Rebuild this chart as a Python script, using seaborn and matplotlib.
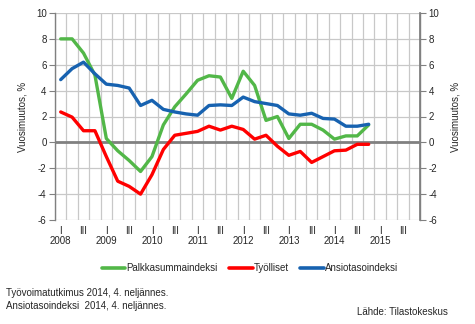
import matplotlib
matplotlib.use("Agg")
import matplotlib.pyplot as plt
import seaborn as sns
import pandas as pd
import numpy as np

quarters = [f"{y}Q{q}" for y in range(2008, 2015) for q in range(1, 5)]
palkkasumma = [8.0, 8.0, 6.9, 5.2, 0.3, -0.65, -1.4, -2.25, -1.1, 1.35, 2.75, 3.75,
               4.8, 5.15, 5.05, 3.4, 5.5, 4.4, 1.7, 2.0, 0.3, 1.4, 1.4, 0.95,
               0.25, 0.5, 0.5, 1.35]
tyolliset = [2.35, 1.95, 0.9, 0.9, -1.1, -3.0, -3.4, -4.0, -2.5, -0.55, 0.55, 0.7,
             0.85, 1.25, 0.95, 1.25, 1.0, 0.25, 0.55, -0.3, -1.0, -0.7, -1.55, -1.1,
             -0.65, -0.6, -0.15, -0.15]
ansiotaso = [4.85, 5.7, 6.2, 5.3, 4.5, 4.4, 4.2, 2.85, 3.25, 2.55, 2.35, 2.2,
             2.1, 2.85, 2.9, 2.85, 3.5, 3.15, 3.0, 2.85, 2.2, 2.1, 2.25, 1.85,
             1.8, 1.25, 1.25, 1.4]
series_names = ["Palkkasummaindeksi", "Työlliset", "Ansiotasoindeksi"]
colors = ["#52b748", "#ff0000", "#1762b0"]
years = list(range(2008, 2016))
y_ticks = [-6, -4, -2, 0, 2, 4, 6, 8, 10]

sns.set_theme(style="white")
plt.rcParams["font.family"] = ["Liberation Sans", "DejaVu Sans"]
plt.rcParams["font.size"] = 7

df = pd.DataFrame({
    "idx": list(range(len(quarters))) * 3,
    "value": palkkasumma + tyolliset + ansiotaso,
    "series": sum([[n] * len(quarters) for n in series_names], []),
})

fig = plt.figure(figsize=(4.75, 3.24), dpi=100)
ax = fig.add_axes([55 / 475, 1 - 220 / 324, (420 - 55) / 475, (220 - 13) / 324])

n_cat = len(years) * 4
ax.set_xlim(-0.5, n_cat - 0.5)
ax.set_ylim(-6, 10)

# grid
for b in np.arange(-0.5, n_cat, 1.0):
    ax.axvline(b, color="#c8c8c8", lw=0.9, zorder=0)
for t in y_ticks:
    ax.axhline(t, color="#c8c8c8", lw=0.9, zorder=0)
ax.axhline(0, color="#808080", lw=2.0, zorder=1)

sns.lineplot(data=df, x="idx", y="value", hue="series", palette=colors,
             hue_order=series_names, lw=2.4, ax=ax, legend=False, zorder=3)

# x tick labels
pos, labs = [], []
for i, y in enumerate(years):
    pos += [i * 4, i * 4 + 2]
    labs += [f"I\n{y}", "III"]
ax.set_xticks(pos)
ax.set_xticklabels(labs, fontsize=7, linespacing=1.05)
ax.tick_params(axis="x", length=0, pad=4)

ax.set_yticks(y_ticks)
ax.set_yticklabels([str(t) for t in y_ticks], fontsize=7)
ax.tick_params(axis="y", length=4, width=0.8, color="#808080", pad=2, left=True)
ax.set_xlabel("")
ax.set_ylabel("Vuosimuutos, %", fontsize=7, labelpad=6)

for s in ["top", "bottom"]:
    ax.spines[s].set_visible(False)
for s in ["left", "right"]:
    ax.spines[s].set_color("#808080")
    ax.spines[s].set_linewidth(1.0)

ax2 = ax.twinx()
ax2.set_ylim(-6, 10)
ax2.set_yticks(y_ticks)
ax2.set_yticklabels([str(t) for t in y_ticks], fontsize=7)
ax2.tick_params(axis="y", length=4, width=0.8, color="#808080", pad=2, right=True)
ax2.set_ylabel("Vuosimuutos, %", fontsize=7, labelpad=8)
for s in ["top", "bottom", "left"]:
    ax2.spines[s].set_visible(False)
ax2.spines["right"].set_color("#808080")

handles = [plt.Line2D([], [], color=c, lw=2.6) for c in colors]
fig.legend(handles, series_names, loc="center", bbox_to_anchor=(250 / 475, 1 - 268 / 324),
           ncol=3, frameon=False, fontsize=7, handlelength=2.4, handletextpad=0.1,
           columnspacing=1.2)

fig.text(6 / 475, 1 - 293 / 324, "Työvoimatutkimus 2014, 4. neljännes.", fontsize=7,
         va="center", ha="left")
fig.text(6 / 475, 1 - 306 / 324, "Ansiotasoindeksi  2014, 4. neljännes.", fontsize=7,
         va="center", ha="left")
fig.text(448 / 475, 1 - 312 / 324, "Lähde: Tilastokeskus", fontsize=7,
         va="center", ha="right")

fig.savefig("out.png", dpi=100)
